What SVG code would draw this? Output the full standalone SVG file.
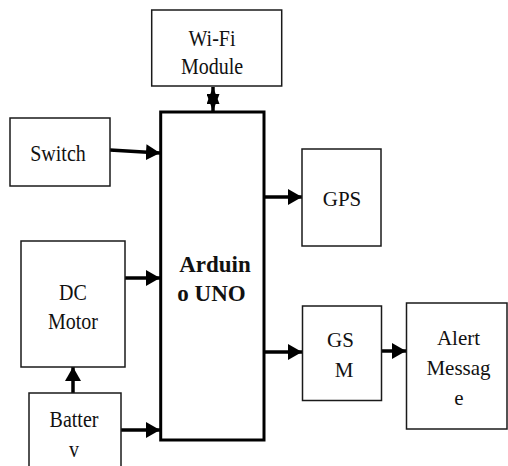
<svg xmlns="http://www.w3.org/2000/svg" width="508" height="466" viewBox="0 0 508 466">
<style>
.box{fill:#fff;stroke:#1a1a1a;stroke-width:1.5}
.main{fill:#fff;stroke:#000;stroke-width:3}
.t{font-family:'Liberation Serif','Times New Roman',serif;fill:#111;text-anchor:middle}
.l{font-size:20px}
.r{font-size:21px}
.b{font-size:23px;font-weight:bold}
.c{stroke:#000;stroke-width:3.5;fill:none}
</style>
<defs>
<marker id="ah" markerUnits="userSpaceOnUse" markerWidth="15" markerHeight="17" refX="14" refY="8" orient="auto">
<path d="M0,0 L14,8 L0,16 z" fill="#000"/>
</marker>
<marker id="sh" markerUnits="userSpaceOnUse" markerWidth="18" markerHeight="13" refX="17" refY="6.5" orient="auto-start-reverse">
<path d="M0,0 L17,6.5 L0,13 z" fill="#000"/>
</marker>
</defs>
<g id="connectors">
<line class="c" x1="110" y1="150" x2="160" y2="153" marker-end="url(#ah)"/>
<line class="c" x1="125" y1="278" x2="160" y2="278" marker-end="url(#ah)"/>
<line class="c" x1="121" y1="430" x2="160" y2="430" marker-end="url(#ah)"/>
<line class="c" x1="73" y1="393" x2="73" y2="367" marker-end="url(#ah)"/>
<line class="c" x1="213" y1="87" x2="213" y2="111" marker-start="url(#sh)" marker-end="url(#sh)"/>
<line class="c" x1="265" y1="197" x2="302" y2="197" marker-end="url(#ah)"/>
<line class="c" x1="265" y1="352" x2="302" y2="352" marker-end="url(#ah)"/>
<line class="c" x1="382" y1="351" x2="406" y2="351" marker-end="url(#ah)"/>
</g>
<g id="wifi">
<rect class="box" x="151.7" y="10" width="130" height="76"/>
<text class="t l" transform="translate(212,46) scale(1,1.2)">Wi-Fi</text>
<text class="t l" transform="translate(212,74) scale(1,1.2)">Module</text>
</g>
<g id="switch">
<rect class="box" x="10" y="118" width="100" height="68"/>
<text class="t l" transform="translate(58,161) scale(1,1.2)">Switch</text>
</g>
<g id="dcmotor">
<rect class="box" x="21" y="241" width="104" height="126"/>
<text class="t l" transform="translate(73,300) scale(1,1.2)">DC</text>
<text class="t l" transform="translate(73,329) scale(1,1.2)">Motor</text>
</g>
<g id="battery">
<rect class="box" x="29" y="393" width="92" height="80"/>
<text class="t l" transform="translate(74,427) scale(1,1.2)">Batter</text>
<text class="t l" transform="translate(74,457) scale(1,1.2)">v</text>
</g>
<g id="arduino">
<rect class="main" x="160.7" y="112" width="103.3" height="328"/>
<text class="t b" x="215" y="272">Arduin</text>
<text class="t b" x="211.5" y="301">o UNO</text>
</g>
<g id="gps">
<rect class="box" x="302" y="149" width="79" height="97"/>
<text class="t r" x="342" y="206">GPS</text>
</g>
<g id="gsm">
<rect class="box" x="302.5" y="306" width="79" height="94.5"/>
<text class="t r" x="340.5" y="347">GS</text>
<text class="t r" x="344" y="377">M</text>
</g>
<g id="alert">
<rect class="box" x="406.5" y="303" width="100.5" height="126"/>
<text class="t r" x="458.5" y="345">Alert</text>
<text class="t r" x="458.5" y="375">Messag</text>
<text class="t r" x="459" y="405">e</text>
</g>
</svg>
